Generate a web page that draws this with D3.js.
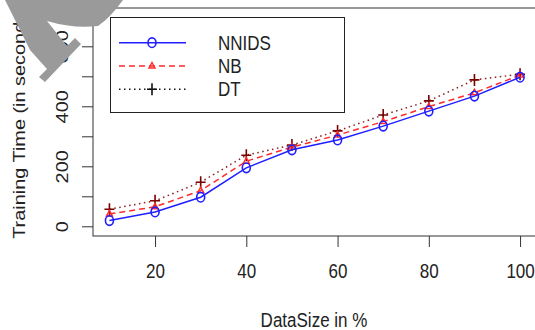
<!DOCTYPE html>
<html>
<head>
<meta charset="utf-8">
<script src="https://cdn.jsdelivr.net/npm/d3@7"></script>
<style>
  body { margin: 0; background: #fff; }
  text { font-family: "Liberation Sans", Arial, sans-serif; fill: #222; }
</style>
</head>
<body>
<script>
// Data
const dataSizes = [10, 20, 30, 40, 50, 60, 70, 80, 90, 100];
const nnidsTimes = [19, 48, 97, 195, 255, 288, 334, 384, 434, 497];
const nbTimes = [41, 65, 119, 217, 264, 304, 349, 399, 445, 504];
const dtTimes = [57, 85, 147, 237, 271, 318, 371, 418, 488, 507];
const seriesNames = ["NNIDS", "NB", "DT"];
const xTicks = [20, 40, 60, 80, 100];
const yTicks = [0, 100, 200, 300, 400, 500, 600];

const svgWidth = 535;
const svgHeight = 330;

// Plot box (R style, the right edge falls just off the picture)
const box = { left: 93, right: 536.5, top: 8, bottom: 236 };
const textStretch = 1.17; // picture is stretched a bit vertically

let svg = d3.select("body")
  .append("svg")
  .attr("width", svgWidth)
  .attr("height", svgHeight);

let xScale = d3.scaleLinear()
  .domain([6.4, 103.6])
  .range([box.left, box.right]);

let yScale = d3.scaleLinear()
  .domain([-32.3, 727.7])
  .range([box.bottom, box.top]);

// Axes
let leftAxis = d3.axisLeft(yScale)
  .tickValues(yTicks)
  .tickSize(11)
  .tickFormat(d => d % 200 === 0 ? d : "");

let bottomAxis = d3.axisBottom(xScale)
  .tickValues(xTicks)
  .tickSize(11);

let yAxisGroup = svg.append("g")
  .attr("transform", `translate(${box.left}, 0)`)
  .call(leftAxis);

yAxisGroup.select(".domain").remove();
yAxisGroup.selectAll("line").attr("stroke", "#333");
yAxisGroup.selectAll("text")
  .attr("x", null).attr("dy", null)
  .attr("text-anchor", "middle")
  .attr("dominant-baseline", "central")
  .attr("font-size", 17)
  .attr("transform", `translate(-31, 0) rotate(-90) scale(${textStretch}, 1)`);

let xAxisGroup = svg.append("g")
  .attr("transform", `translate(0, ${box.bottom})`)
  .call(bottomAxis);

xAxisGroup.select(".domain").remove();
xAxisGroup.selectAll("line").attr("stroke", "#333");
xAxisGroup.selectAll("text")
  .attr("y", null).attr("dy", null)
  .attr("dominant-baseline", "central")
  .attr("font-size", 17)
  .attr("transform", `translate(0, 35) scale(1, ${textStretch})`);

// Plot box
svg.append("rect")
  .attr("x", box.left)
  .attr("y", box.top)
  .attr("width", box.right - box.left)
  .attr("height", box.bottom - box.top)
  .attr("fill", "none")
  .attr("stroke", "#333")
  .attr("stroke-width", 1);

// Axis titles
svg.append("text")
  .attr("text-anchor", "middle")
  .attr("dominant-baseline", "central")
  .attr("font-size", 17)
  .attr("transform", `translate(314, 320) scale(1, ${textStretch})`)
  .text("DataSize in %");

svg.append("text")
  .attr("text-anchor", "middle")
  .attr("dominant-baseline", "central")
  .attr("font-size", 17)
  .attr("transform", `translate(19, ${(box.top + box.bottom) / 2}) rotate(-90) scale(${textStretch}, 1)`)
  .text("Training Time (in seconds)");

// Series
let series = [
  { name: seriesNames[0], values: nnidsTimes, color: "#1f1fff", dash: null, mark: "circle", markColor: "#1f1fff" },
  { name: seriesNames[1], values: nbTimes, color: "#ff2a2a", dash: "6,4", mark: "triangle", markColor: "#ff2a2a" },
  { name: seriesNames[2], values: dtTimes, color: "#8a1c1c", dash: "1.5,3.5", mark: "plus", markColor: "#7a0000" }
];

let createLine = d3.line()
  .x((d, i) => xScale(dataSizes[i]))
  .y(d => yScale(d));

function drawMark(g, kind, color, cx, cy) {
  if (kind === "circle") {
    g.append("ellipse")
      .attr("cx", cx).attr("cy", cy)
      .attr("rx", 4).attr("ry", 4.8)
      .attr("fill", "none")
      .attr("stroke", color)
      .attr("stroke-width", 1.6);
  } else if (kind === "triangle") {
    g.append("path")
      .attr("d", `M${cx},${cy - 3.5}L${cx + 3},${cy + 2}L${cx - 3},${cy + 2}Z`)
      .attr("fill", "none")
      .attr("stroke", color)
      .attr("stroke-width", 1.4);
  } else {
    g.append("path")
      .attr("d", `M${cx - 5},${cy}H${cx + 5}M${cx},${cy - 6}V${cy + 6}`)
      .attr("stroke", color)
      .attr("stroke-width", 1.6);
  }
}

let plotGroup = svg.append("g");

series.slice().reverse().forEach(s => {
  plotGroup.append("path")
    .attr("d", createLine(s.values))
    .attr("fill", "none")
    .attr("stroke", s.color)
    .attr("stroke-width", 1.5)
    .attr("stroke-dasharray", s.dash);
  s.values.forEach((v, i) => drawMark(plotGroup, s.mark, s.markColor, xScale(dataSizes[i]), yScale(v)));
});

// Legend
let legend = svg.append("g");
legend.append("rect")
  .attr("x", 110.5).attr("y", 17.5)
  .attr("width", 234).attr("height", 95)
  .attr("fill", "#fff")
  .attr("stroke", "#222");

let legendColors = ["#1f1fff", "#ff2a2a", "#111"];
series.forEach((s, i) => {
  let ly = 42.7 + i * 23.3;
  legend.append("line")
    .attr("x1", 119).attr("x2", 186)
    .attr("y1", ly).attr("y2", ly)
    .attr("stroke", legendColors[i])
    .attr("stroke-width", 1.5)
    .attr("stroke-dasharray", s.dash);
  drawMark(legend, s.mark, legendColors[i], 152, ly);
  legend.append("text")
    .attr("dominant-baseline", "central")
    .attr("font-size", 17)
    .attr("transform", `translate(218, ${ly}) scale(1, ${textStretch})`)
    .text(s.name);
});

// Grey watermark stroke covering the top left corner
svg.append("path")
  .attr("d", "M5,0L123,0Q110,18 98,26Q74,29 47,21L67,46L75,38L81,44L45,82L39,77L47,69L30,50Z")
  .attr("fill", "#9a9a9a");
</script>
</body>
</html>
